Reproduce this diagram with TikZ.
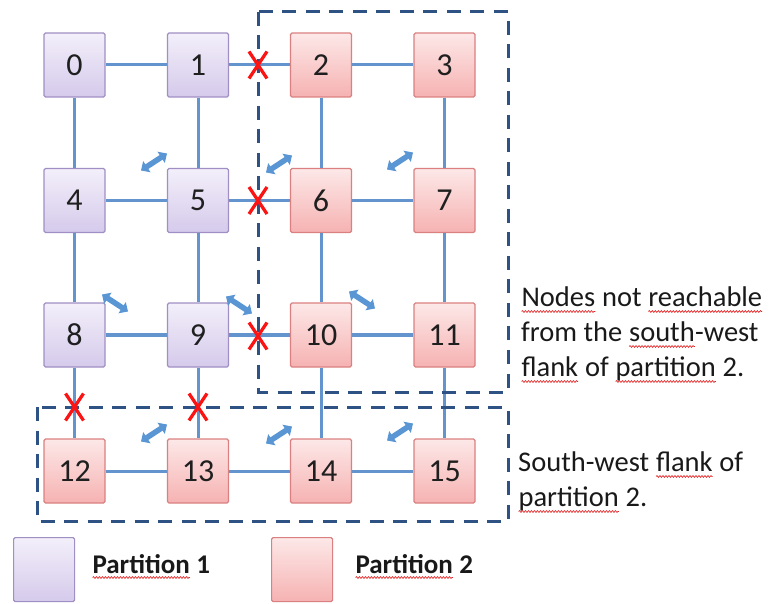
\documentclass[tikz,border=0pt]{standalone}
\usepackage{fontspec}
\setmainfont{Carlito}
\usetikzlibrary{arrows.meta,decorations.pathmorphing}

\definecolor{linkblue}{RGB}{99,148,205}
\definecolor{boxblue}{RGB}{47,82,132}
\definecolor{pOneTop}{RGB}{243,239,250}
\definecolor{pOneBot}{RGB}{213,202,235}
\definecolor{pOneEdge}{RGB}{160,143,196}
\definecolor{pTwoTop}{RGB}{253,232,232}
\definecolor{pTwoBot}{RGB}{246,178,178}
\definecolor{pTwoEdge}{RGB}{218,128,128}
\definecolor{cutred}{RGB}{250,20,20}
\definecolor{swapblue}{RGB}{91,150,212}
\definecolor{spellred}{RGB}{225,40,40}

\tikzset{
  cell/.style={minimum width=61pt, minimum height=64pt, inner sep=0pt,
    rounded corners=1.5pt, line width=1.2pt,
    font=\fontsize{32}{36}\selectfont, text=black!88},
  partone/.style={cell, draw=pOneEdge, top color=pOneTop, bottom color=pOneBot},
  parttwo/.style={cell, draw=pTwoEdge, top color=pTwoTop, bottom color=pTwoBot},
  linkline/.style={draw=linkblue, line width=3pt},
  flankbox/.style={draw=boxblue, line width=3pt, dash pattern=on 14pt off 9.5pt},
  cutmark/.style={draw=cutred, line width=3.3pt},
  swaparrow/.style={draw=swapblue, line width=5.5pt,
    {Triangle[length=7pt,width=13pt]}-{Triangle[length=7pt,width=13pt]}},
  notetext/.style={font=\fontsize{28.5}{35}\selectfont, align=left,
    inner sep=0pt, anchor=north west, text=black!90},
  keytext/.style={font=\fontsize{27}{32}\bfseries\selectfont,
    inner sep=0pt, anchor=base west, text=black!90},
  squig/.style={draw=spellred, line width=0.7pt, decorate,
    decoration={snake, amplitude=0.9pt, segment length=3pt}}
}

% a word with a red wavy underline
\newcommand\wavy[1]{\tikz[baseline=(wd.base), x=1pt, y=1pt]{%
  \node[inner sep=0pt, outer sep=0pt, anchor=base] (wd) {#1};%
  \draw[squig] ([yshift=-4.5pt]wd.base west) -- ([yshift=-4.5pt]wd.base east);}}

\begin{document}
\begin{tikzpicture}[x=1pt, y=-1pt]
\useasboundingbox (0,0) rectangle (769,604);

% grid of nodes
\node[partone] (n0)  at (74.5,65)   {0};
\node[partone] (n1)  at (198,65)    {1};
\node[parttwo] (n2)  at (321,65)    {2};
\node[parttwo] (n3)  at (444.5,65)  {3};
\node[partone] (n4)  at (74.5,200.5) {4};
\node[partone] (n5)  at (198,200.5)  {5};
\node[parttwo] (n6)  at (321,200.5)  {6};
\node[parttwo] (n7)  at (444.5,200.5) {7};
\node[partone] (n8)  at (74.5,335)  {8};
\node[partone] (n9)  at (198,335)   {9};
\node[parttwo] (n10) at (321,335)   {10};
\node[parttwo] (n11) at (444.5,335) {11};
\node[parttwo] (n12) at (74.5,471)  {12};
\node[parttwo] (n13) at (198,471)   {13};
\node[parttwo] (n14) at (321,471)   {14};
\node[parttwo] (n15) at (444.5,471) {15};

% mesh links
\foreach \a/\b in {n0/n1,n1/n2,n2/n3,n4/n5,n5/n6,n6/n7,n8/n9,n9/n10,n10/n11,
                   n12/n13,n13/n14,n14/n15,
                   n0/n4,n4/n8,n8/n12,n1/n5,n5/n9,n9/n13,
                   n2/n6,n6/n10,n10/n14,n3/n7,n7/n11,n11/n15}
  \draw[linkline] (\a) -- (\b);

% flank regions
\draw[flankbox] (258,12) rectangle (508,392);
\draw[flankbox] (37,407) rectangle (508,521);

% severed links
\foreach \p in {(258,65),(258,200.5),(258,336),(74.5,407),(198,407)}
  \draw[cutmark] \p +(-9,-13.5) -- +(9,13.5) \p +(-9,13.5) -- +(9,-13.5);

% traffic direction markers
\foreach \p in {(154,162),(279,164),(400,161),(154,433),(279,435),(400,432)}
  \draw[swaparrow] \p +(-13,8.5) -- +(13,-8.5);
\foreach \p in {(115,303),(239,305),(362,300)}
  \draw[swaparrow] \p +(-13,-8.5) -- +(13,8.5);

% annotations
\node[notetext] (unreach) at (521,287)
  {\wavy{Nodes} not \wavy{reachable}\\from the \wavy{south}-west\\\wavy{flank} of \wavy{partition} 2.};
\node[notetext] (swflank) at (518,452)
  {South-west \wavy{flank} of\\\wavy{partition} 2.};

% legend
\node[partone, anchor=north west] (key1) at (13,537) {};
\node[parttwo, anchor=north west] (key2) at (271,537) {};
\node[keytext] (key1t) at (92,573) {\wavy{Partition} 1};
\node[keytext] (key2t) at (355,573) {\wavy{Partition} 2};
\end{tikzpicture}
\end{document}
